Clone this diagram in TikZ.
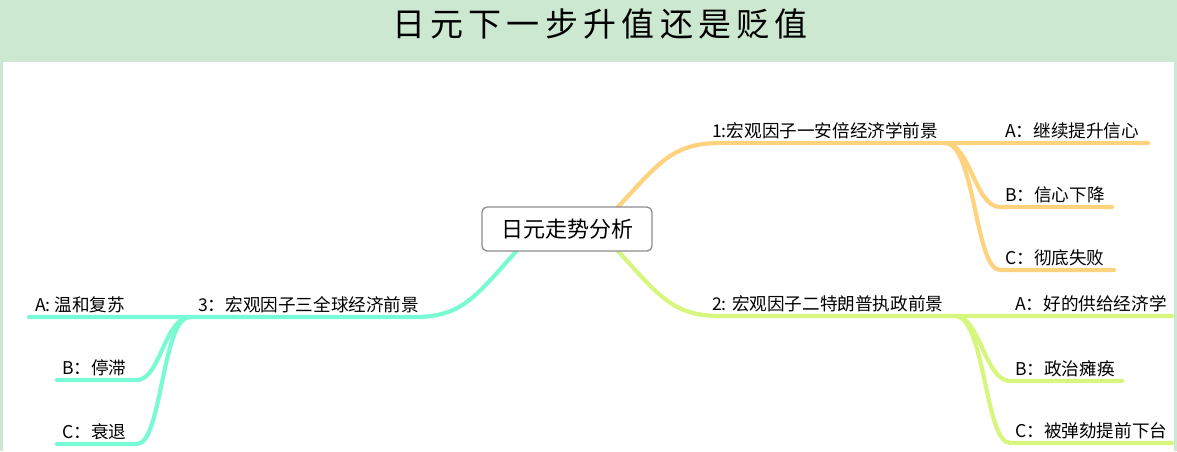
\documentclass[tikz,border=0pt]{standalone}
\usepackage{fontspec}
\setmainfont{Noto Sans CJK SC}
\newfontfamily\titlefont[LetterSpace=16]{Noto Sans CJK SC}
\definecolor{hdr}{RGB}{205,232,208}
\definecolor{orangeb}{RGB}{255,210,125}
\definecolor{limeb}{RGB}{214,246,125}
\definecolor{aquab}{RGB}{122,250,212}
\definecolor{boxline}{RGB}{140,140,140}
\begin{document}
\begin{tikzpicture}[x=1pt,y=-1pt,
  br/.style={line width=4.2pt,line cap=round},
  lbl/.style={anchor=base west,inner sep=0pt,font=\fontsize{17.6}{20}\selectfont},
  rootbox/.style={draw=boxline,line width=1.3pt,rounded corners=5pt,fill=white,minimum width=170pt,minimum height=44pt,inner sep=0pt,font=\fontsize{22}{26}\selectfont},
  titlestyle/.style={inner sep=0pt,font=\titlefont\fontsize{33}{36}\selectfont}]
\useasboundingbox (0,0) rectangle (1177,451);
\fill[hdr] (0,0) rectangle (1177,62);
\fill[hdr] (0,0) rectangle (3,451);
\fill[hdr] (1174,0) rectangle (1177,451);
\node[titlestyle] (title) at (600,24) {日元下一步升值还是贬值};

% coordinates
\coordinate (r1) at (597,229);
\coordinate (r3) at (537,229);
\coordinate (k1) at (720,143);
\coordinate (s1) at (945,143);
\coordinate (a1e) at (1148,143);
\coordinate (b1s) at (1000,207);
\coordinate (b1e) at (1112,207);
\coordinate (c1s) at (1000,270);
\coordinate (c1e) at (1114,270);
\coordinate (k2) at (720,316);
\coordinate (s2) at (955,316);
\coordinate (a2e) at (1172,316);
\coordinate (b2s) at (1010,381);
\coordinate (b2e) at (1122,381);
\coordinate (c2s) at (1010,443);
\coordinate (c2e) at (1172,443);
\coordinate (k3) at (415,317);
\coordinate (s3) at (190,317);
\coordinate (a3e) at (29,317);
\coordinate (b3s) at (137,380);
\coordinate (b3e) at (57,380);
\coordinate (c3s) at (137,444);
\coordinate (c3e) at (57,444);

% branch 1
\draw[br,orangeb] (r1) .. controls (655,170) and (665,143) .. (k1) -- (s1) -- (a1e);
\draw[br,orangeb] (s1) .. controls (970,143) and (975,207) .. (b1s) -- (b1e);
\draw[br,orangeb] (s1) .. controls (975,143) and (975,270) .. (c1s) -- (c1e);
% branch 2
\draw[br,limeb] (r1) .. controls (655,288) and (665,316) .. (k2) -- (s2) -- (a2e);
\draw[br,limeb] (s2) .. controls (980,316) and (985,381) .. (b2s) -- (b2e);
\draw[br,limeb] (s2) .. controls (985,316) and (985,443) .. (c2s) -- (c2e);
% branch 3
\draw[br,aquab] (r3) .. controls (480,288) and (470,317) .. (k3) -- (s3) -- (a3e);
\draw[br,aquab] (s3) .. controls (165,317) and (160,380) .. (b3s) -- (b3e);
\draw[br,aquab] (s3) .. controls (162,317) and (162,444) .. (c3s) -- (c3e);

\node[rootbox] (root) at (567,229) {日元走势分析};

\node[lbl] (n1) at (712,137) {1:宏观因子一安倍经济学前景};
\node[lbl] (n1a) at (1005,137) {A：继续提升信心};
\node[lbl] (n1b) at (1005,201) {B：信心下降};
\node[lbl] (n1c) at (1005,264) {C：彻底失败};
\node[lbl] (n2) at (712,310) {2: 宏观因子二特朗普执政前景};
\node[lbl] (n2a) at (1015,310) {A：好的供给经济学};
\node[lbl] (n2b) at (1015,375) {B：政治瘫痪};
\node[lbl] (n2c) at (1015,437) {C：被弹劾提前下台};
\node[lbl] (n3) at (198,311) {3：宏观因子三全球经济前景};
\node[lbl] (n3a) at (35,311) {A: 温和复苏};
\node[lbl] (n3b) at (62,374) {B：停滞};
\node[lbl] (n3c) at (62,438) {C：衰退};
\end{tikzpicture}
\end{document}
